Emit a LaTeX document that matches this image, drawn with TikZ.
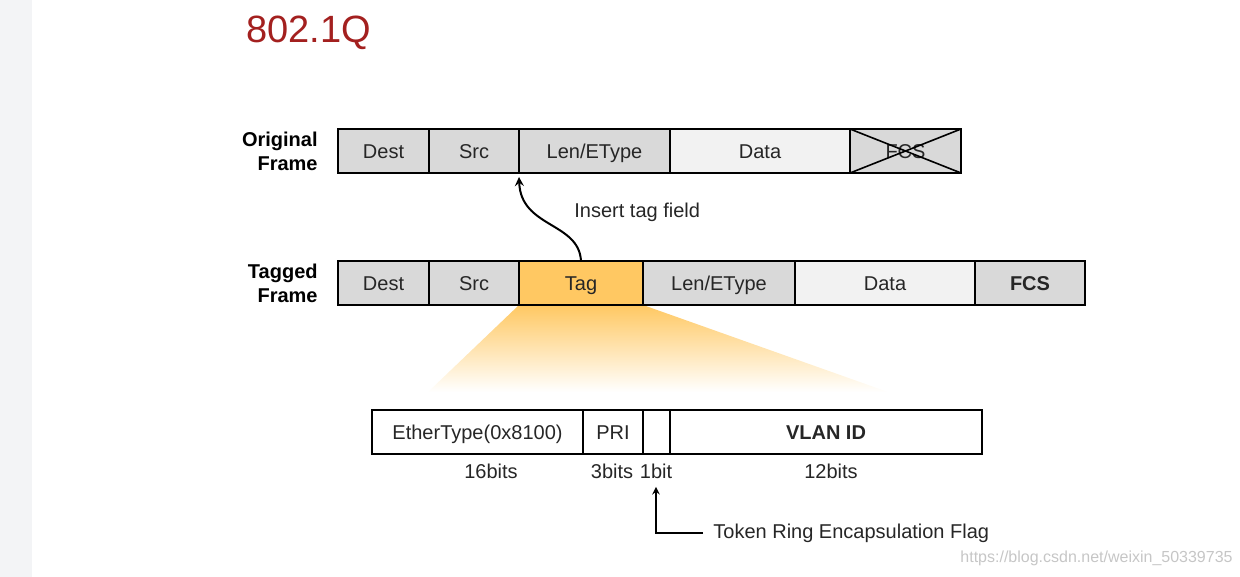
\documentclass[tikz,border=0pt]{standalone}
\usepackage{fontspec}
\setmainfont{Liberation Sans}
\usetikzlibrary{positioning}
\usetikzlibrary{arrows}
\usetikzlibrary{backgrounds}
\definecolor{TitleRed}{HTML}{A3201F}
\definecolor{FieldGray}{HTML}{D9D9D9}
\definecolor{DataGray}{HTML}{F2F2F2}
\definecolor{TagOrange}{HTML}{FFC862}
\definecolor{SideGray}{HTML}{F3F4F6}
\tikzset{
  field/.style={draw, line width=1.2pt, fill=FieldGray, minimum height=22pt,
    inner sep=0pt, outer sep=0pt, text height=7.2pt, text depth=0pt,
    font=\fontsize{10}{12}\selectfont, text=black!85},
  datafield/.style={field, fill=DataGray},
  tagfield/.style={field, fill=TagOrange},
  subfield/.style={field, fill=white},
  rowlabel/.style={align=right, inner sep=0pt, font=\fontsize{10}{12}\selectfont\bfseries},
  bitlabel/.style={inner sep=1pt, text height=7.5pt, text depth=0pt, font=\fontsize{10}{12}\selectfont, text=black!85},
  plaintext/.style={anchor=west, inner sep=0pt, font=\fontsize{10}{12}\selectfont, text=black!85}
}

\begin{document}
\begin{tikzpicture}[x=0.5pt, y=-0.5pt]
  \useasboundingbox (0,0) rectangle (1240,577);
  \fill[SideGray] (0,0) rectangle (32,577);

  \node[anchor=west, inner sep=0pt, text=TitleRed, font=\fontsize{19}{22}\selectfont] (title) at (246,33) {802.1Q};

  % original frame
  \node[field, minimum width=45.5pt, anchor=west] (odest) at (338,151) {Dest};
  \node[field, minimum width=45pt, right=0pt of odest] (osrc) {Src};
  \node[field, minimum width=75.5pt, right=0pt of osrc] (olen) {Len/EType};
  \node[datafield, minimum width=90pt, right=0pt of olen] (odata) {Data};
  \node[field, minimum width=55.5pt, right=0pt of odata] (ofcs) {FCS};
  \draw[line width=0.8pt] (ofcs.north west) -- (ofcs.south east)
    (ofcs.south west) -- (ofcs.north east);
  \node[rowlabel, left=10pt of odest] (olabel) {Original\\Frame};

  % tagged frame
  \node[field, minimum width=45.5pt, anchor=west] (tdest) at (338,283) {Dest};
  \node[field, minimum width=45pt, right=0pt of tdest] (tsrc) {Src};
  \node[tagfield, minimum width=62pt, right=0pt of tsrc] (tag) {Tag};
  \node[field, minimum width=76pt, right=0pt of tag] (tlen) {Len/EType};
  \node[datafield, minimum width=90pt, right=0pt of tlen] (tdata) {Data};
  \node[field, minimum width=55pt, right=0pt of tdata, font=\fontsize{10}{12}\selectfont\bfseries] (tfcs) {FCS};
  \node[rowlabel, left=10pt of tdest] (tlabel) {Tagged\\Frame};

  \begin{scope}[on background layer]
    \shade[top color=TagOrange, bottom color=white]
      (tag.south west) -- (tag.south east) -- (888,392) -- (428,392) -- cycle;
  \end{scope}

  % insert arrow
  \draw[line width=1pt, -stealth] (tag.north) .. controls (579,222) and (521,228) .. ([yshift=-2pt]olen.south west);
  \node[plaintext] (insert) at (574,212) {Insert tag field};

  % tag fields
  \node[subfield, minimum width=105.5pt, anchor=west] (ether) at (372,432) {EtherType(0x8100)};
  \node[subfield, minimum width=30pt, right=0pt of ether] (pri) {PRI};
  \node[subfield, minimum width=13.5pt, right=0pt of pri] (cfi) {};
  \node[subfield, minimum width=156pt, right=0pt of cfi, font=\fontsize{10}{12}\selectfont\bfseries] (vlan) {VLAN ID};

  \node[bitlabel] (b16) at (491,471) {16bits};
  \node[bitlabel] (b3) at (612,471) {3bits};
  \node[bitlabel] (b1) at (656,471) {1bit};
  \node[bitlabel] (b12) at (831,471) {12bits};

  \node[plaintext] (trflag) at (713,533) {Token Ring Encapsulation Flag};
  \draw[line width=0.7pt, -stealth] ([xshift=-5pt]trflag.west) -| ([yshift=-3pt]b1.south);

  \node[anchor=west, inner sep=0pt, text=gray!45, font=\fontsize{8}{10}\selectfont] (wmark) at (960,558) {https://blog.csdn.net/weixin\_50339735};
\end{tikzpicture}
\end{document}
